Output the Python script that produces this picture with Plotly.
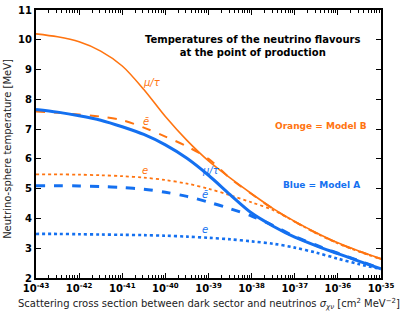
import numpy as np
import plotly.graph_objects as go

# log10 of scattering cross section [cm^2 MeV^-2]
log_sigma = [-43, -42.5, -42, -41.5, -41, -40.5, -40, -39.5, -39, -38.5, -38, -37.5, -37, -36.5, -36, -35.5, -35]

# Model B (orange)
B_mutau = [10.2, 10.1, 9.93, 9.62, 9.12, 8.33, 7.42, 6.62, 5.93, 5.36, 4.83, 4.33, 3.9, 3.52, 3.18, 2.9, 2.65]
B_ebar = [7.59, 7.55, 7.49, 7.42, 7.3, 7.05, 6.75, 6.42, 6.0, 5.35, 4.82, 4.32, 3.89, 3.51, 3.17, 2.89, 2.64]
B_e = [5.48, 5.48, 5.47, 5.45, 5.42, 5.37, 5.29, 5.17, 5.0, 4.78, 4.54, 4.28, 3.89, 3.5, 3.16, 2.88, 2.63]

# Model A (blue)
A_mutau = [7.66, 7.57, 7.45, 7.3, 7.08, 6.82, 6.47, 6.02, 5.45, 4.8, 4.18, 3.74, 3.37, 3.08, 2.82, 2.56, 2.31]
A_ebar = [5.1, 5.1, 5.09, 5.07, 5.04, 4.98, 4.88, 4.74, 4.55, 4.33, 4.08, 3.76, 3.39, 3.1, 2.83, 2.57, 2.32]
A_e = [3.48, 3.48, 3.47, 3.46, 3.45, 3.44, 3.42, 3.39, 3.35, 3.3, 3.23, 3.15, 3.02, 2.85, 2.65, 2.46, 2.3]

x_tick_exps = [-43, -42, -41, -40, -39, -38, -37, -36, -35]
y_ticks = [2, 3, 4, 5, 6, 7, 8, 9, 10, 11]

ORANGE = "#ff7410"
BLUE = "#1470f0"

x = [10.0 ** v for v in log_sigma]

fig = go.Figure()

def add(y, color, dash, width):
    fig.add_trace(go.Scatter(x=x, y=y, mode="lines",
                             line=dict(color=color, dash=dash, width=width, shape="spline", smoothing=0.9),
                             showlegend=False, hoverinfo="skip"))

add(B_e, ORANGE, "dot", 1.8)
add(B_ebar, ORANGE, "dash", 2.0)
add(B_mutau, ORANGE, "solid", 1.6)
add(A_e, BLUE, "dot", 2.6)
add(A_ebar, BLUE, "dash", 3.0)
add(A_mutau, BLUE, "solid", 3.0)

font_family = "DejaVu Sans"

ann = []
# Curve labels
def lab(xe, yv, text, color):
    ann.append(dict(x=xe, y=yv, xref="x", yref="y", text=text, showarrow=False,
                    font=dict(family="DejaVu Sans", size=10, color=color)))

lab(-40.3, 8.57, "<i>μ/τ</i>", ORANGE)
lab(-40.45, 7.25, "<i>ē</i>", ORANGE)
lab(-40.47, 5.62, "<i>e</i>", ORANGE)
lab(-38.95, 5.6, "<i>μ/τ</i>", BLUE)
lab(-39.08, 4.8, "<i>ē</i>", BLUE)
lab(-39.08, 3.62, "<i>e</i>", BLUE)

ann.append(dict(x=-37.99, y=9.78, xref="x", yref="y",
                text="<b>Temperatures of the neutrino flavours<br>at the point of production</b>",
                showarrow=False, font=dict(family=font_family, size=10, color="black"), align="center"))
ann.append(dict(x=-36.38, y=7.1, xref="x", yref="y", text="<b>Orange = Model B</b>",
                showarrow=False, font=dict(family=font_family, size=9, color=ORANGE)))
ann.append(dict(x=-36.38, y=5.12, xref="x", yref="y", text="<b>Blue = Model A</b>",
                showarrow=False, font=dict(family=font_family, size=9, color=BLUE)))

# Axis titles
ann.append(dict(x=0.5, y=0, xref="paper", yref="paper", xanchor="center", yanchor="top", yshift=-17,
                text="Scattering cross section between dark sector and neutrinos <i>σ<sub>χν</sub></i> [cm<sup>2</sup> MeV<sup>−2</sup>]",
                showarrow=False, font=dict(family=font_family, size=10, color="#222")))
ann.append(dict(x=0, y=0.48, xref="paper", yref="paper", xanchor="right", yanchor="middle", xshift=-21,
                text="Neutrino-sphere temperature [MeV]", textangle=-90,
                showarrow=False, font=dict(family=font_family, size=10, color="#222")))

fig.update_layout(
    width=407, height=314,
    margin=dict(l=36, r=26, t=10, b=36),
    paper_bgcolor="white", plot_bgcolor="white",
    annotations=ann,
    font=dict(family=font_family),
)

fig.update_xaxes(
    type="log", range=[-43, -35],
    tickvals=[10.0 ** e for e in x_tick_exps],
    ticktext=["<b>10<sup>%d</sup></b>" % e for e in x_tick_exps],
    tickfont=dict(family=font_family, size=10, color="black"),
    ticks="inside", ticklen=5, tickwidth=1, tickcolor="black",
    minor=dict(ticks="inside", ticklen=3, tickwidth=0.8, tickcolor="black", dtick="D1", showgrid=False),
    showline=True, linewidth=2, linecolor="black", mirror="ticks",
    showgrid=False, zeroline=False, automargin=False,
)
fig.update_yaxes(
    range=[2, 11],
    tickvals=y_ticks,
    ticktext=["<b>%d</b>" % v for v in y_ticks],
    tickfont=dict(family=font_family, size=10, color="black"),
    ticks="inside", ticklen=5, tickwidth=1, tickcolor="black",
    showline=True, linewidth=2, linecolor="black", mirror="ticks",
    showgrid=False, zeroline=False, automargin=False,
)

fig.write_html("out.html",
               config={"displayModeBar": False},
               post_script="document.body.style.margin='0';document.body.style.padding='0';document.documentElement.style.overflow='hidden';")
